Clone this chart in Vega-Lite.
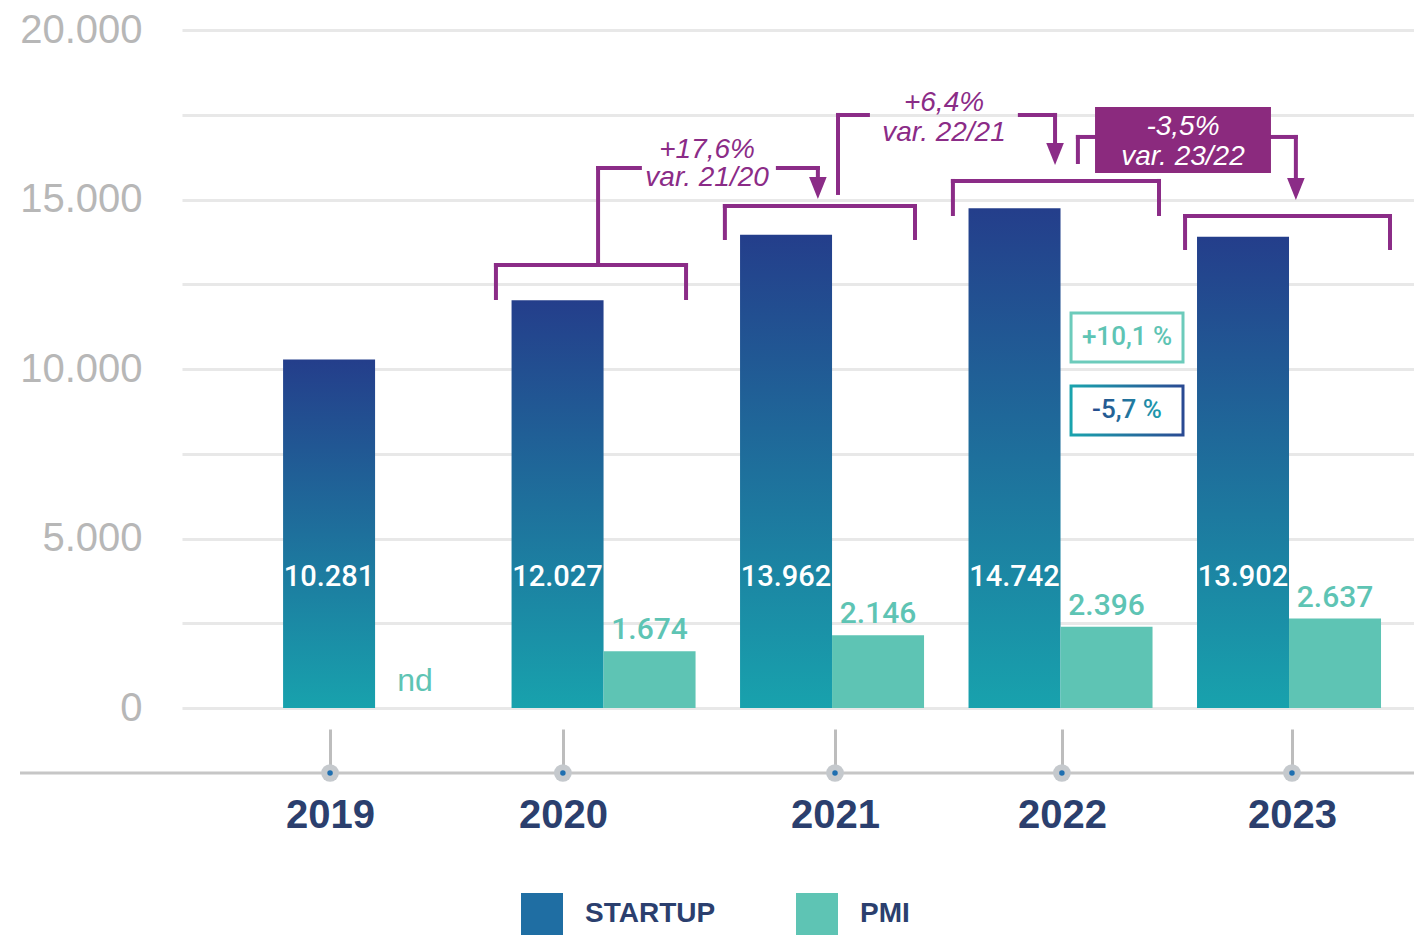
{
  "$schema": "https://vega.github.io/schema/vega-lite/v6.json",
  "width": 1232,
  "height": 678,
  "autosize": {"type": "none"},
  "padding": {"left": 182, "top": 30, "right": 0, "bottom": 227},
  "background": "white",
  "config": {"view": {"stroke": null}},
  "datasets": {
    "bars": [
      {"year": 2019, "series": "STARTUP", "value": 10281, "label": "10.281"},
      {"year": 2020, "series": "STARTUP", "value": 12027, "label": "12.027"},
      {"year": 2021, "series": "STARTUP", "value": 13962, "label": "13.962"},
      {"year": 2022, "series": "STARTUP", "value": 14742, "label": "14.742"},
      {"year": 2023, "series": "STARTUP", "value": 13902, "label": "13.902"},
      {"year": 2019, "series": "PMI", "value": null, "label": "nd"},
      {"year": 2020, "series": "PMI", "value": 1674, "label": "1.674"},
      {"year": 2021, "series": "PMI", "value": 2146, "label": "2.146"},
      {"year": 2022, "series": "PMI", "value": 2396, "label": "2.396"},
      {"year": 2023, "series": "PMI", "value": 2637, "label": "2.637"}
    ],
    "segs": [
      {"x": 2019.529, "x2": 2020.361, "y": 13068, "y2": 13068},
      {"x": 2019.529, "x2": 2019.529, "y": 13068, "y2": 12095},
      {"x": 2020.361, "x2": 2020.361, "y": 13068, "y2": 12095},
      {"x": 2020.531, "x2": 2021.363, "y": 14809, "y2": 14809},
      {"x": 2020.531, "x2": 2020.531, "y": 14809, "y2": 13865},
      {"x": 2021.363, "x2": 2021.363, "y": 14809, "y2": 13865},
      {"x": 2021.529, "x2": 2022.431, "y": 15547, "y2": 15547},
      {"x": 2021.529, "x2": 2021.529, "y": 15547, "y2": 14573},
      {"x": 2022.431, "x2": 2022.431, "y": 15547, "y2": 14573},
      {"x": 2022.545, "x2": 2023.442, "y": 14514, "y2": 14514},
      {"x": 2022.545, "x2": 2022.545, "y": 14514, "y2": 13570},
      {"x": 2023.442, "x2": 2023.442, "y": 14514, "y2": 13570},
      {"x": 2019.976, "x2": 2019.976, "y": 13068, "y2": 15930},
      {"x": 2019.976, "x2": 2020.159, "y": 15930, "y2": 15930},
      {"x": 2020.763, "x2": 2020.938, "y": 15930, "y2": 15930},
      {"x": 2020.938, "x2": 2020.938, "y": 15930, "y2": 15340},
      {"x": 2021.026, "x2": 2021.026, "y": 15193, "y2": 17494},
      {"x": 2021.026, "x2": 2021.157, "y": 17494, "y2": 17494},
      {"x": 2021.822, "x2": 2021.976, "y": 17494, "y2": 17494},
      {"x": 2021.976, "x2": 2021.976, "y": 17494, "y2": 16343},
      {"x": 2022.076, "x2": 2022.076, "y": 16107, "y2": 16845},
      {"x": 2022.076, "x2": 2022.151, "y": 16845, "y2": 16845},
      {"x": 2022.921, "x2": 2023.03, "y": 16845, "y2": 16845},
      {"x": 2023.03, "x2": 2023.03, "y": 16845, "y2": 15310}
    ],
    "arrows": [
      {"x": 2020.938, "y": 15340},
      {"x": 2021.976, "y": 16343},
      {"x": 2023.03, "y": 15310}
    ],
    "box": [
      {"x": 2022.151, "x2": 2022.921, "y": 17730, "y2": 15783}
    ],
    "notes": [
      {"kind": "plain", "x": 2020.453, "y": 16461, "text": "+17,6%"},
      {"kind": "plain", "x": 2020.453, "y": 15635, "text": "var. 21/20"},
      {"kind": "plain", "x": 2021.49, "y": 17848, "text": "+6,4%"},
      {"kind": "plain", "x": 2021.49, "y": 16963, "text": "var. 22/21"},
      {"kind": "boxed", "x": 2022.536, "y": 17140, "text": "-3,5%"},
      {"kind": "boxed", "x": 2022.536, "y": 16255, "text": "var. 23/22"}
    ],
    "changes": [
      {"series": "PMI", "x": 2022.046, "x2": 2022.536, "y": 11653, "y2": 10207, "xm": 2022.291, "ym": 10930, "text": "+10,1 %"},
      {"series": "STARTUP", "x": 2022.046, "x2": 2022.536, "y": 9499, "y2": 8054, "xm": 2022.291, "ym": 8776, "text": "-5,7 %"}
    ],
    "ticks": [
      {"x": 2018.803}, {"x": 2019.822}, {"x": 2021.013}, {"x": 2022.006}, {"x": 2023.013}
    ]
  },
  "layer": [
    {
      "data": {"name": "bars"},
      "transform": [{"filter": "datum.series === 'STARTUP'"}],
      "mark": {"type": "bar", "orient": "vertical", "width": 92, "xOffset": -46,
               "color": {"gradient": "linear", "x1": 0, "y1": 0, "x2": 0, "y2": 1,
                         "stops": [{"offset": 0, "color": "#243e8b"}, {"offset": 1, "color": "#18a2ad"}]}},
      "encoding": {
        "x": {
          "field": "year", "type": "quantitative", "title": null,
          "scale": {"domain": [2018.155, 2023.547], "nice": false, "zero": false, "padding": 0},
          "axis": {
            "title": null,
            "values": [2018.803, 2019.822, 2021.013, 2022.006, 2023.013],
            "labelExpr": "format(round(datum.value), 'd')",
            "offset": 65, "domain": false, "grid": false,
            "ticks": true, "tickSize": -44, "tickColor": "#bdbdbd", "tickWidth": 3,
            "labelPadding": 66, "labelFontSize": 40, "labelFont": "Liberation Sans",
            "labelFontWeight": "bold", "labelColor": "#2b3f6e", "labelFlush": false, "labelOverlap": false
          }
        },
        "y": {
          "field": "value", "type": "quantitative", "title": null,
          "scale": {"domain": [0, 20000], "nice": false, "zero": true, "padding": 0},
          "axis": {
            "title": null,
            "values": [0, 2500, 5000, 7500, 10000, 12500, 15000, 17500, 20000],
            "labelExpr": "datum.value % 5000 === 0 ? replace(format(datum.value, ','), ',', '.') : ''",
            "grid": true, "gridColor": "#e8e8e8", "gridWidth": 3,
            "domain": false, "ticks": false, "labelPadding": 40,
            "labelFontSize": 40, "labelFont": "Liberation Sans", "labelColor": "#b7b7b7",
            "labelBaseline": "middle", "labelOverlap": false
          }
        }
      }
    },
    {
      "data": {"name": "bars"},
      "transform": [{"filter": "datum.series === 'PMI' && datum.value !== null"}],
      "mark": {"type": "bar", "orient": "vertical", "width": 92, "xOffset": 46, "color": "#5ec4b4"},
      "encoding": {
        "x": {"field": "year", "type": "quantitative", "title": null},
        "y": {"field": "value", "type": "quantitative", "title": null}
      }
    },
    {
      "data": {"name": "bars"},
      "transform": [{"filter": "datum.value !== null"}],
      "mark": {"type": "square", "size": 0, "filled": true, "opacity": 1},
      "encoding": {
        "x": {"field": "year", "type": "quantitative", "title": null},
        "y": {"datum": 0, "title": null},
        "color": {
          "field": "series", "type": "nominal",
          "scale": {"domain": ["STARTUP", "PMI"], "range": ["#1f6ea3", "#5ec4b4"]},
          "legend": {
            "title": null, "orient": "none", "legendX": 339, "legendY": 863,
            "direction": "horizontal", "symbolType": "square", "symbolSize": 1764,
            "symbolStrokeWidth": 0, "symbolOpacity": 1, "labelFontSize": 28, "labelFont": "Liberation Sans",
            "labelFontWeight": "bold", "labelColor": "#2b3f6e", "labelOffset": 22,
            "columnPadding": 80
          }
        }
      }
    },
    {
      "data": {"name": "bars"},
      "transform": [{"filter": "datum.series === 'STARTUP'"}],
      "mark": {"type": "text", "dx": -46, "align": "center", "baseline": "middle", "color": "white",
               "font": "Roboto", "fontWeight": 500, "fontSize": 29},
      "encoding": {
        "x": {"field": "year", "type": "quantitative", "title": null},
        "y": {"datum": 3865, "title": null},
        "text": {"field": "label"}
      }
    },
    {
      "data": {"name": "bars"},
      "transform": [{"filter": "datum.series === 'PMI' && datum.value !== null"}],
      "mark": {"type": "text", "dx": 46, "dy": -6, "align": "center", "baseline": "bottom", "color": "#5ec4b4",
               "font": "Roboto", "fontWeight": 500, "fontSize": 30},
      "encoding": {
        "x": {"field": "year", "type": "quantitative", "title": null},
        "y": {"field": "value", "type": "quantitative", "title": null},
        "text": {"field": "label"}
      }
    },
    {
      "data": {"name": "bars"},
      "transform": [{"filter": "datum.series === 'PMI' && datum.value === null"}],
      "mark": {"type": "text", "dx": 40, "dy": -10, "align": "center", "baseline": "bottom", "color": "#5ec4b4",
               "font": "Liberation Sans", "fontSize": 32},
      "encoding": {
        "x": {"field": "year", "type": "quantitative", "title": null},
        "y": {"datum": 0, "title": null},
        "text": {"field": "label"}
      }
    },
    {
      "data": {"name": "segs"},
      "mark": {"type": "rule", "color": "#8b2c87", "strokeWidth": 4, "strokeCap": "square"},
      "encoding": {
        "x": {"field": "x", "type": "quantitative", "title": null},
        "x2": {"field": "x2"},
        "y": {"field": "y", "type": "quantitative", "title": null},
        "y2": {"field": "y2"}
      }
    },
    {
      "data": {"name": "arrows"},
      "mark": {"type": "point", "shape": "M-0.8,-1L0.8,-1L0,1Z", "size": 484, "filled": true,
               "color": "#8b2c87", "opacity": 1, "strokeWidth": 0},
      "encoding": {
        "x": {"field": "x", "type": "quantitative", "title": null},
        "y": {"field": "y", "type": "quantitative", "title": null}
      }
    },
    {
      "data": {"name": "box"},
      "mark": {"type": "rect", "color": "#8b2a7e"},
      "encoding": {
        "x": {"field": "x", "type": "quantitative", "title": null},
        "x2": {"field": "x2"},
        "y": {"field": "y", "type": "quantitative", "title": null},
        "y2": {"field": "y2"}
      }
    },
    {
      "data": {"name": "notes"},
      "transform": [{"filter": "datum.kind === 'plain'"}],
      "mark": {"type": "text", "align": "center", "baseline": "middle", "color": "#8b2c87",
               "font": "Liberation Sans", "fontStyle": "italic", "fontSize": 28},
      "encoding": {
        "x": {"field": "x", "type": "quantitative", "title": null},
        "y": {"field": "y", "type": "quantitative", "title": null},
        "text": {"field": "text"}
      }
    },
    {
      "data": {"name": "notes"},
      "transform": [{"filter": "datum.kind === 'boxed'"}],
      "mark": {"type": "text", "align": "center", "baseline": "middle", "color": "white",
               "font": "Liberation Sans", "fontStyle": "italic", "fontSize": 28},
      "encoding": {
        "x": {"field": "x", "type": "quantitative", "title": null},
        "y": {"field": "y", "type": "quantitative", "title": null},
        "text": {"field": "text"}
      }
    },
    {
      "data": {"name": "changes"},
      "transform": [{"filter": "datum.series === 'PMI'"}],
      "mark": {"type": "rect", "fill": "white", "stroke": "#6ccbbb", "strokeWidth": 3},
      "encoding": {
        "x": {"field": "x", "type": "quantitative", "title": null},
        "x2": {"field": "x2"},
        "y": {"field": "y", "type": "quantitative", "title": null},
        "y2": {"field": "y2"}
      }
    },
    {
      "data": {"name": "changes"},
      "transform": [{"filter": "datum.series === 'STARTUP'"}],
      "mark": {"type": "rect", "fill": "white", "strokeWidth": 3,
               "stroke": {"gradient": "linear", "x1": 0, "y1": 0, "x2": 1, "y2": 0,
                          "stops": [{"offset": 0, "color": "#1aa3ad"}, {"offset": 1, "color": "#2a4a93"}]}},
      "encoding": {
        "x": {"field": "x", "type": "quantitative", "title": null},
        "x2": {"field": "x2"},
        "y": {"field": "y", "type": "quantitative", "title": null},
        "y2": {"field": "y2"}
      }
    },
    {
      "data": {"name": "changes"},
      "transform": [{"filter": "datum.series === 'PMI'"}],
      "mark": {"type": "text", "align": "center", "baseline": "middle", "color": "#5ec4b4",
               "font": "Roboto", "fontWeight": 500, "fontSize": 26},
      "encoding": {
        "x": {"field": "xm", "type": "quantitative", "title": null},
        "y": {"field": "ym", "type": "quantitative", "title": null},
        "text": {"field": "text"}
      }
    },
    {
      "data": {"name": "changes"},
      "transform": [{"filter": "datum.series === 'STARTUP'"}],
      "mark": {"type": "text", "align": "center", "baseline": "middle",
               "fill": {"gradient": "linear", "x1": 0, "y1": 0, "x2": 1, "y2": 0,
                        "stops": [{"offset": 0, "color": "#254a8c"}, {"offset": 1, "color": "#1f9dae"}]},
               "font": "Roboto", "fontWeight": 500, "fontSize": 26},
      "encoding": {
        "x": {"field": "xm", "type": "quantitative", "title": null},
        "y": {"field": "ym", "type": "quantitative", "title": null},
        "text": {"field": "text"}
      }
    },
    {
      "data": {"values": [{}]},
      "mark": {"type": "rule", "color": "#c6c6c6", "strokeWidth": 3},
      "encoding": {
        "x": {"datum": 2017.446, "title": null},
        "x2": {"datum": 2023.547},
        "y": {"datum": -1917, "title": null}
      }
    },
    {
      "data": {"name": "ticks"},
      "mark": {"type": "point", "shape": "circle", "size": 314, "filled": true, "color": "#c5c9cd", "opacity": 1},
      "encoding": {
        "x": {"field": "x", "type": "quantitative", "title": null},
        "y": {"datum": -1917, "title": null}
      }
    },
    {
      "data": {"name": "ticks"},
      "mark": {"type": "point", "shape": "circle", "size": 30, "filled": true, "color": "#1f6fb0", "opacity": 1},
      "encoding": {
        "x": {"field": "x", "type": "quantitative", "title": null},
        "y": {"datum": -1917, "title": null}
      }
    }
  ]
}
